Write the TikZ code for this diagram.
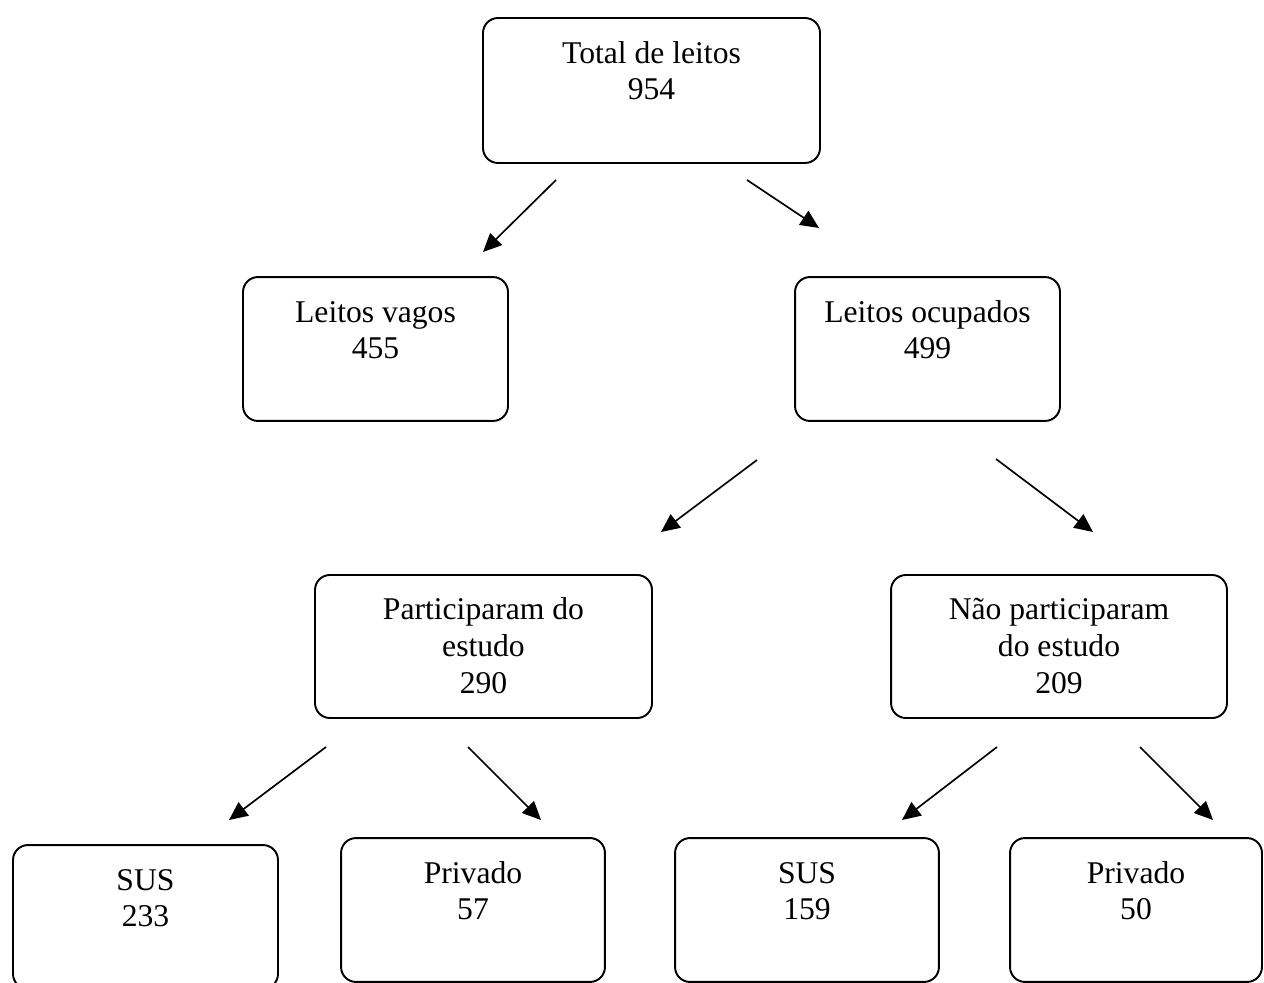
\documentclass[tikz,border=0pt]{standalone}
\usepackage{fontspec}
\setmainfont{Liberation Serif}
\usetikzlibrary{arrows.meta}
\newcommand{\bxtext}[3]{\parbox[c][#2][t]{#1}{\centering\rule{0pt}{25.6pt}#3}}
\tikzset{
  box/.style={draw, line width=1.1pt, rounded corners=8.5pt, inner sep=0pt,
    font=\fontsize{18}{21}\selectfont},
  arr/.style={line width=0.95pt, -{Triangle[length=10.5pt,width=9.5pt]}}
}
\begin{document}
\begin{tikzpicture}[x=0.02cm,y=-0.02cm]
\useasboundingbox (0,0) rectangle (1264,983);
% boxes (px coordinates)
\node[box] (total) at (651.5,90.5) {\bxtext{191.8pt}{82.5pt}{Total de leitos\\954}};
\node[box] (vagos) at (375.5,349) {\bxtext{150.8pt}{81.9pt}{Leitos vagos\\455}};
\node[box] (ocup) at (927.5,349) {\bxtext{150.8pt}{81.9pt}{Leitos ocupados\\499}};
\node[box] (part) at (483.5,646.5) {\bxtext{191.8pt}{81.4pt}{Participaram do\\estudo\\290}};
\node[box] (nao) at (1059,646.5) {\bxtext{191.2pt}{81.4pt}{Não participaram\\do estudo\\209}};
\node[box] (sus1) at (145.5,917) {\bxtext{150.8pt}{81.9pt}{SUS\\233}};
\node[box] (priv1) at (473,910) {\bxtext{150.2pt}{81.9pt}{Privado\\57}};
\node[box] (sus2) at (807,910) {\bxtext{150.2pt}{81.9pt}{SUS\\159}};
\node[box] (priv2) at (1136,910) {\bxtext{143.4pt}{81.9pt}{Privado\\50}};
% arrow end points
\coordinate (a1s) at (556,180); \coordinate (a1e) at (483,252);
\coordinate (a2s) at (747,180); \coordinate (a2e) at (819,228);
\coordinate (a3s) at (757,460); \coordinate (a3e) at (661,532);
\coordinate (a4s) at (996,459); \coordinate (a4e) at (1093,532);
\coordinate (a5s) at (326,747); \coordinate (a5e) at (229,820);
\coordinate (a6s) at (468,747); \coordinate (a6e) at (541,820);
\coordinate (a7s) at (997,747); \coordinate (a7e) at (902,820);
\coordinate (a8s) at (1140,747); \coordinate (a8e) at (1213,820);
\draw[arr] (a1s) -- (a1e);
\draw[arr] (a2s) -- (a2e);
\draw[arr] (a3s) -- (a3e);
\draw[arr] (a4s) -- (a4e);
\draw[arr] (a5s) -- (a5e);
\draw[arr] (a6s) -- (a6e);
\draw[arr] (a7s) -- (a7e);
\draw[arr] (a8s) -- (a8e);
\end{tikzpicture}
\end{document}
